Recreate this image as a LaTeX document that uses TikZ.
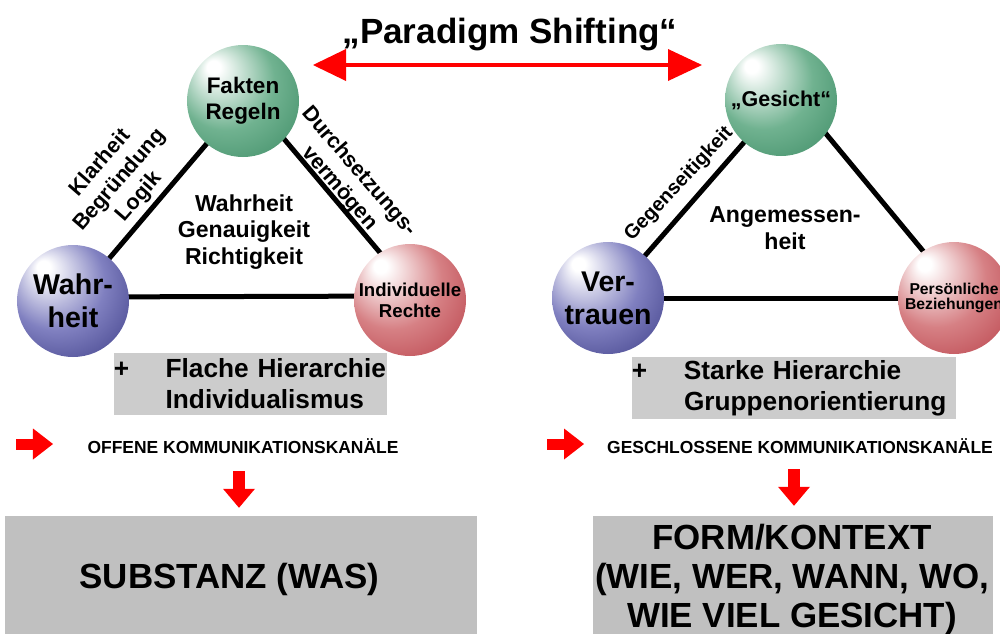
\documentclass[tikz,border=0pt]{standalone}
\usepackage{fontspec}
\setmainfont{Liberation Sans}
\usepackage{tikz}
\usetikzlibrary{arrows.meta,backgrounds}

\definecolor{ballgreen}{RGB}{112,178,144}
\definecolor{ballgreendark}{RGB}{46,128,88}
\definecolor{ballblue}{RGB}{128,128,192}
\definecolor{ballbluedark}{RGB}{42,42,118}
\definecolor{ballred}{RGB}{214,128,132}
\definecolor{ballreddark}{RGB}{176,46,56}
\definecolor{hiergray}{RGB}{204,204,204}
\definecolor{boxgray}{RGB}{192,192,192}

\pgfdeclareradialshading{greenball}{\pgfpoint{-14bp}{16bp}}{color(0bp)=(white); color(3bp)=(white); color(22bp)=(ballgreen); color(46bp)=(ballgreendark); color(50bp)=(ballgreendark)}
\pgfdeclareradialshading{blueball}{\pgfpoint{-14bp}{16bp}}{color(0bp)=(white); color(3bp)=(white); color(22bp)=(ballblue); color(46bp)=(ballbluedark); color(50bp)=(ballbluedark)}
\pgfdeclareradialshading{redball}{\pgfpoint{-14bp}{16bp}}{color(0bp)=(white); color(3bp)=(white); color(22bp)=(ballred); color(46bp)=(ballreddark); color(50bp)=(ballreddark)}

\newcommand\fsz[2]{\fontsize{#1}{#2}\selectfont\bfseries}

\begin{document}
\begin{tikzpicture}[x=0.03cm, y=-0.03cm,
    sphere/.style={circle, minimum size=3.36cm, inner sep=0pt, shade, shading=#1, align=center},
    triline/.style={line width=0.15cm},
    edgelbl/.style={align=center, inner sep=0pt, font=\fsz{18.4}{22}},
    innerlbl/.style={align=center, inner sep=0pt, font=\fsz{19.7}{22.5}},
    hierbox/.style={fill=hiergray, inner xsep=0pt, inner ysep=0pt, minimum height=1.86cm, align=left, font=\fsz{22.4}{26.5}},
    chan/.style={inner sep=0pt, font=\fsz{14.9}{17}},
    bigbox/.style={fill=boxgray, minimum height=3.72cm, inner sep=0pt},
    bigtext/.style={align=center, inner sep=0pt, font=\fsz{29.8}{33.3}},
    shiftarrow/.style={red, line width=0.135cm,
      arrows={Triangle[length=0.99cm, width=0.96cm, line width=0pt]-Triangle[length=1.02cm, width=0.96cm, line width=0pt]}},
    pusharrow/.style={red, line width=0.33cm, arrows={-Triangle[length=0.6cm, width=0.93cm, line width=0pt]}},
    droparrow/.style={red, line width=0.36cm, arrows={-Triangle[length=0.57cm, width=0.96cm, line width=0pt]}}]
  \useasboundingbox (0,0) rectangle (1000,633);
  \clip (0,0) rectangle (1000,633);

  \node [anchor=base, inner sep=0pt, font=\fsz{29.9}{34}] (title) at (510,43) {„Paradigm Shifting“};
  \coordinate (shiftL) at (313,65);
  \coordinate (shiftR) at (702,65);
  \draw [shiftarrow] (shiftL) -- (shiftR);

  \node [sphere=greenball, font=\fsz{19.2}{22.2}] (fakten) at (243,101) {Fakten\\Regeln};
  \node [sphere=blueball, font=\fsz{24.4}{28}] (wahr) at (73,301) {Wahr-\\heit};
  \node [sphere=redball, font=\fsz{15.9}{18}] (rechte) at (410,300) {Individuelle\\Rechte};
  \node [sphere=greenball, font=\fsz{18.3}{21}] (gesicht) at (781,100) {„Gesicht“};
  \node [sphere=blueball, font=\fsz{24.3}{28}] (vertrauen) at (608,298) {Ver-\\trauen};
  \node [sphere=redball, font=\fsz{13.4}{13.6}] (beziehung) at (954,298) {Persönliche\\Beziehungen};

  \begin{scope}[on background layer]
    \draw [triline] (fakten.center) -- (wahr.center);
    \draw [triline] ([yshift=0.12cm]wahr.center) -- ([yshift=0.12cm]rechte.center);
    \draw [triline] ([xshift=0.27cm]fakten.center) -- ([xshift=0.3cm]rechte.center);
    \draw [triline] (gesicht.center) -- (vertrauen.center);
    \draw [triline] (vertrauen.center) -- (beziehung.center);
    \draw [triline] ([xshift=0.51cm]gesicht.center) -- ([xshift=0.24cm]beziehung.center);
  \end{scope}

  \node [edgelbl, rotate=49] (klarheit) at (120,180) {Klarheit\\Begründung\\Logik};
  \node [edgelbl, rotate=-49] (durchsetzung) at (349,180) {Durchsetzungs-\\vermögen};
  \node [edgelbl, rotate=47, font=\fsz{17}{20}] (gegenseitig) at (679,184) {Gegenseitigkeit};
  \node [innerlbl] (wahrheit) at (244,232) {Wahrheit\\Genauigkeit\\Richtigkeit};
  \node [innerlbl, font=\fsz{19.7}{23}] (angemessen) at (785,228) {Angemessen-\\heit};

  \node [hierbox, text width=8.19cm] (hierL) at (250.5,384)
    {\makebox[1.55cm][l]{+}\mbox{Flache Hierarchie}\\\hspace*{1.55cm}Individualismus};
  \node [hierbox, text width=9.72cm] (hierR) at (794,388)
    {\makebox[1.56cm][l]{+}\mbox{Starke Hierarchie}\\\hspace*{1.56cm}Gruppenorientierung};

  \node [chan, anchor=base] (chanL) at (243,453) {OFFENE KOMMUNIKATIONSKANÄLE};
  \node [chan, anchor=base] (chanR) at (800,453) {GESCHLOSSENE KOMMUNIKATIONSKANÄLE};
  \coordinate (pushL) at (16,444);
  \coordinate (pushLtip) at (53,444);
  \coordinate (pushR) at (547,444);
  \coordinate (pushRtip) at (584,444);
  \draw [pusharrow] (pushL) -- (pushLtip);
  \draw [pusharrow] (pushR) -- (pushRtip);

  \node [bigbox, minimum width=14.16cm] (substBox) at (241,578) {};
  \node [bigbox, minimum width=12cm] (formBox) at (793,578) {};
  \node [bigtext, anchor=base] (substanz) at (229.5,588) {SUBSTANZ (WAS)};
  \node [bigtext] (form) at (792,579) {FORM/KONTEXT\\(WIE, WER, WANN, WO,\\WIE VIEL GESICHT)};

  \coordinate (dropL) at (239,471);
  \coordinate (dropR) at (794,469);
  \draw [droparrow, shorten >=0.24cm] (dropL) -- (dropL |- substBox.north);
  \draw [droparrow, shorten >=0.3cm] (dropR) -- (dropR |- formBox.north);
\end{tikzpicture}
\end{document}
